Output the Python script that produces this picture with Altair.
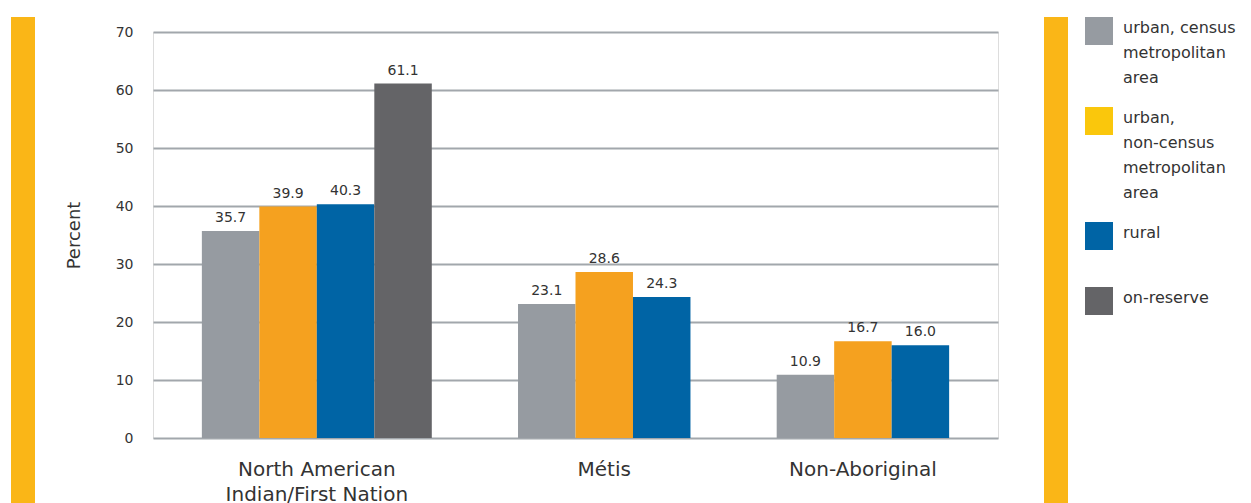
import altair as alt
import pandas as pd

# ---------------- data ----------------
categories = ["North American Indian/First Nation", "Métis", "Non-Aboriginal"]
category_labels = ["North American\nIndian/First Nation", "Métis", "Non-Aboriginal"]
series = [
    "urban, census metropolitan area",
    "urban, non-census metropolitan area",
    "rural",
    "on-reserve",
]
nai_values = [35.7, 39.9, 40.3, 61.1]
metis_values = [23.1, 28.6, 24.3]
nonab_values = [10.9, 16.7, 16.0]

bar_colors = ["#969BA1", "#F5A11F", "#0064A5", "#646467"]
legend_colors = ["#969BA1", "#FAC70C", "#0064A5", "#646467"]
FONT = "DejaVu Sans"
TXT = "#333333"
GRID = "#A2A7AC"
GAP = 1.5  # empty bar-widths between groups

rows = []
start = 0.0
for g, (cat, lab, vals) in enumerate(zip(categories, category_labels,
                                          [nai_values, metis_values, nonab_values])):
    for i, v in enumerate(vals):
        rows.append({"category": cat, "cat_label": lab, "series": series[i],
                     "value": v, "pos": start + i})
    start += len(vals) + GAP
df = pd.DataFrame(rows)

W, H = 845, 406
xscale = alt.Scale(domain=[-0.85, start - GAP + 0.85], nice=False, zero=False, padding=0)
yscale = alt.Scale(domain=[0, 70], nice=False, padding=0)

base = alt.Chart(df).transform_calculate(
    pos_end="datum.pos + 1", center="datum.pos + 0.5"
)

bars = base.mark_bar().encode(
    x=alt.X("pos:Q", scale=xscale, axis=None),
    x2="pos_end:Q",
    y=alt.Y("value:Q", scale=yscale,
            axis=alt.Axis(values=list(range(0, 71, 10)), title="Percent",
                          grid=True, gridColor=GRID, gridWidth=2, ticks=False,
                          domain=False, labelFont=FONT, labelFontSize=14,
                          labelColor=TXT, labelPadding=20, labelOffset=-2,
                          titleFont=FONT, titleFontSize=18, titleFontWeight="normal",
                          titleColor=TXT, titlePadding=32)),
    y2=alt.datum(0),
    color=alt.Color("series:N", scale=alt.Scale(domain=series, range=bar_colors),
                    legend=None),
)

values_text = base.mark_text(baseline="bottom", dy=-6, font=FONT, fontSize=14,
                             color=TXT).encode(
    x=alt.X("center:Q", scale=xscale),
    y=alt.Y("value:Q", scale=yscale),
    text=alt.Text("value:Q", format=".1f"),
)

cat_text = base.transform_aggregate(
    center="mean(center)", groupby=["category", "cat_label"]
).mark_text(baseline="middle", dy=32, font=FONT, fontSize=20, color=TXT,
            lineBreak="\n", lineHeight=25).encode(
    x=alt.X("center:Q", scale=xscale),
    y=alt.datum(0, scale=yscale),
    text="cat_label:N",
)

legend_layer = base.mark_square(size=0, opacity=0).encode(
    x=alt.X("center:Q", scale=xscale),
    y=alt.datum(0, scale=yscale),
    fill=alt.Fill("series:N", scale=alt.Scale(domain=series, range=legend_colors),
                  legend=alt.Legend(
                      title=None, orient="none", legendX=932, legendY=-15,
                      symbolType="square", symbolSize=784, symbolOpacity=1,
                      symbolStrokeWidth=0, labelFont=FONT, labelFontSize=16,
                      labelColor=TXT, labelOffset=10, labelLimit=300,
                      labelBaseline="alphabetic", rowPadding=21, padding=0,
                      labelExpr="datum.label == 'urban, census metropolitan area' ? ['urban, census','metropolitan','area'] : datum.label == 'urban, non-census metropolitan area' ? ['urban,','non-census','metropolitan','area'] : datum.label == 'rural' ? ['rural', ''] : datum.label",
                  )),
)

deco_left = alt.Chart(df).mark_rect(color="#FAB617").encode(
    x=alt.value(-142), x2=alt.value(-118), y=alt.value(-15), y2=alt.value(471)
)
deco_right = alt.Chart(df).mark_rect(color="#FAB617").encode(
    x=alt.value(891), x2=alt.value(915), y=alt.value(-15), y2=alt.value(471)
)

chart = alt.layer(deco_left, deco_right, bars, values_text, cat_text, legend_layer).properties(
    width=W, height=H,
    autosize=alt.AutoSizeParams(type="none"),
    padding={"left": 153, "top": 32, "right": 253, "bottom": 65},
).resolve_scale(color="independent").configure_view(
    stroke=GRID, strokeWidth=2
).configure(background="white", style={"guide-label": {"lineHeight": 25, "dy": 2}})

chart.save("out.html", embed_options={"renderer": "svg", "actions": False})
